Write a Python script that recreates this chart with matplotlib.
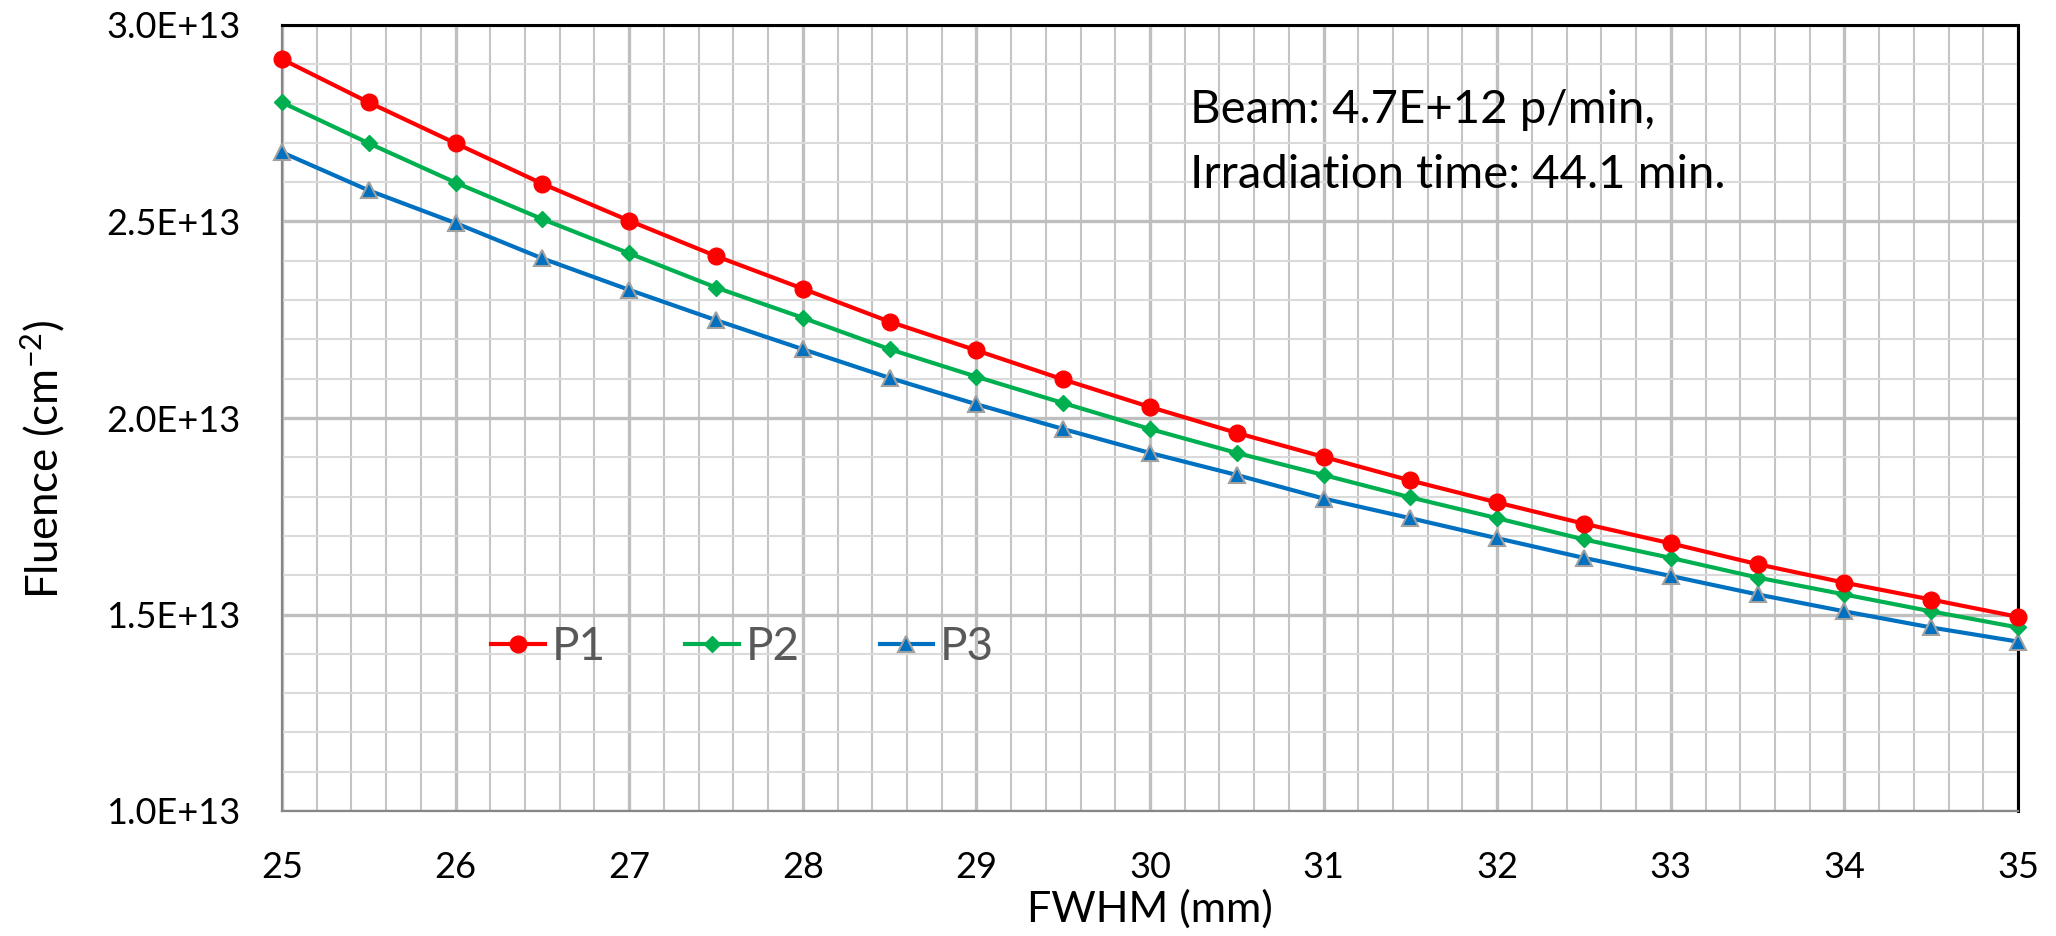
import matplotlib
matplotlib.use("Agg")
import matplotlib.pyplot as plt
from matplotlib.ticker import MultipleLocator, FuncFormatter

fwhm = [25, 25.5, 26, 26.5, 27, 27.5, 28, 28.5, 29, 29.5, 30,
        30.5, 31, 31.5, 32, 32.5, 33, 33.5, 34, 34.5, 35]
p1 = [2.913, 2.803, 2.699, 2.596, 2.502, 2.412, 2.329, 2.245, 2.172, 2.098, 2.028,
      1.962, 1.901, 1.841, 1.785, 1.731, 1.681, 1.628, 1.581, 1.538, 1.494]
p2 = [2.803, 2.699, 2.599, 2.506, 2.419, 2.332, 2.255, 2.175, 2.105, 2.038, 1.972,
      1.911, 1.855, 1.798, 1.745, 1.691, 1.644, 1.594, 1.551, 1.508, 1.467]
p3 = [2.676, 2.579, 2.496, 2.406, 2.326, 2.249, 2.175, 2.102, 2.035, 1.972, 1.911,
      1.855, 1.795, 1.745, 1.694, 1.644, 1.598, 1.551, 1.508, 1.467, 1.431]
scale = 1e13
series_names = ["P1", "P2", "P3"]
annotation_lines = ["Beam: 4.7E+12 p/min,", "Irradiation time: 44.1 min."]

plt.rcParams['font.family'] = ['Lato', 'DejaVu Sans']
plt.rcParams['mathtext.fontset'] = 'custom'
plt.rcParams['mathtext.rm'] = 'Lato'
plt.rcParams['mathtext.it'] = 'Lato:italic'

fig = plt.figure(figsize=(20.56, 9.36), dpi=100)
ax = fig.add_axes([282/2056, 1-811/936, (2018-282)/2056, (811-25)/936])

ax.set_xlim(25, 35)
ax.set_ylim(1.0e13, 3.0e13)
ax.xaxis.set_major_locator(MultipleLocator(1))
ax.xaxis.set_minor_locator(MultipleLocator(0.2))
ax.yaxis.set_major_locator(MultipleLocator(0.5e13))
ax.yaxis.set_minor_locator(MultipleLocator(0.1e13))
ax.yaxis.set_major_formatter(FuncFormatter(lambda v, p: f"{v/1e13:.1f}E+13"))

ax.grid(which='major', axis='both', color='#BFBFBF', linewidth=2.4, zorder=0)
ax.grid(which='minor', axis='x', color='#C4C4C4', linewidth=1.5, zorder=0)
ax.grid(which='minor', axis='y', color='#DADADA', linewidth=1.5, zorder=0)
ax.set_axisbelow(True)
ax.tick_params(which='both', length=0)
ax.tick_params(axis='y', pad=30, labelsize=26)
ax.tick_params(axis='x', pad=29, labelsize=26)

ax.plot(fwhm, [v*scale for v in p1], color='#FF0000', lw=3, marker='o', ms=12,
        mfc='#FF0000', mec='#FF0000', label=series_names[0], clip_on=False, zorder=5)
ax.plot(fwhm, [v*scale for v in p2], color='#00B050', lw=3, marker='D', ms=8.5,
        mfc='#00B050', mec='#00B050', label=series_names[1], clip_on=False, zorder=4)
ax.plot(fwhm, [v*scale for v in p3], color='#0070C0', lw=3, marker='^', ms=12,
        mfc='#0070C0', mec='#A0A0A0', mew=1.5, label=series_names[2], clip_on=False, zorder=3)

for s in ['top', 'right']:
    ax.spines[s].set_color('black')
    ax.spines[s].set_linewidth(2.2)
for s in ['left', 'bottom']:
    ax.spines[s].set_color('#868686')
    ax.spines[s].set_linewidth(1.6)

leg = ax.legend(loc='center left', bbox_to_anchor=(0.1204, 0.2087), ncol=3, frameon=False,
                fontsize=33, handlelength=1.17, columnspacing=1.74, handletextpad=0.15,
                borderpad=0, borderaxespad=0)
for t in leg.get_texts():
    t.set_color('#595959')

ax.text(0.523, 0.875, annotation_lines[0], transform=ax.transAxes, fontsize=34,
        va='baseline', ha='left', color='black')
ax.text(0.523, 0.793, annotation_lines[1], transform=ax.transAxes, fontsize=34,
        va='baseline', ha='left', color='black')

ax.set_xlabel("FWHM (mm)", fontsize=31)
ax.set_ylabel("Fluence (cm$^{-2}$)", fontsize=31.5)
ax.yaxis.set_label_coords(-0.124, 0.447)
ax.xaxis.set_label_coords(0.5, -0.1)

fig.savefig("out.png", dpi=100)
